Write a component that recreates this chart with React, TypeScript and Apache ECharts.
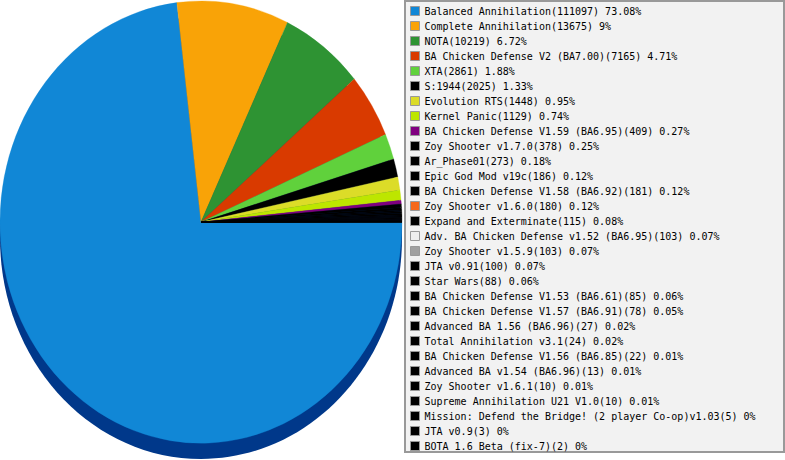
import React, { useEffect, useRef } from "react";
import * as echarts from "echarts";

const names: string[] = [
  "Balanced Annihilation",
  "Complete Annihilation",
  "NOTA",
  "BA Chicken Defense V2 (BA7.00)",
  "XTA",
  "S:1944",
  "Evolution RTS",
  "Kernel Panic",
  "BA Chicken Defense V1.59 (BA6.95)",
  "Zoy Shooter v1.7.0",
  "Ar_Phase01",
  "Epic God Mod v19c",
  "BA Chicken Defense V1.58 (BA6.92)",
  "Zoy Shooter v1.6.0",
  "Expand and Exterminate",
  "Adv. BA Chicken Defense v1.52 (BA6.95)",
  "Zoy Shooter v1.5.9",
  "JTA v0.91",
  "Star Wars",
  "BA Chicken Defense V1.53 (BA6.61)",
  "BA Chicken Defense V1.57 (BA6.91)",
  "Advanced BA 1.56 (BA6.96)",
  "Total Annihilation v3.1",
  "BA Chicken Defense V1.56 (BA6.85)",
  "Advanced BA v1.54 (BA6.96)",
  "Zoy Shooter v1.6.1",
  "Supreme Annihilation U21 V1.0",
  "Mission: Defend the Bridge! (2 player Co-op)v1.03",
  "JTA v0.9",
  "BOTA 1.6 Beta (fix-7)",
];

const values: number[] = [
  111097, 13675, 10219, 7165, 2861, 2025, 1448, 1129, 409, 378, 273, 186, 181,
  180, 115, 103, 103, 100, 88, 85, 78, 27, 24, 22, 13, 10, 10, 5, 3, 2,
];

// legend swatch colours
const palette: string[] = [
  "#1187d6", "#f9a307", "#2e9333", "#d93a00", "#60d13c", "#000000",
  "#dcdc28", "#bde600", "#800080", "#000000", "#000000", "#000000",
  "#000000", "#f5681a", "#000000", "#eeeeee", "#a0a0a0", "#000000",
  "#000000", "#000000", "#000000", "#000000", "#000000", "#000000",
  "#000000", "#000000", "#000000", "#000000", "#000000", "#000000",
];

// slice colours (the pie draws all the small tail slices in black)
const sliceColors: string[] = [
  "#1187d6", "#f9a307", "#2e9333", "#d93a00", "#60d13c", "#000000",
  "#dcdc28", "#bde600", "#800080", "#000000", "#000000", "#000000",
  "#000000", "#000000", "#000000", "#000000", "#000000", "#000000",
  "#000000", "#000000", "#000000", "#000000", "#000000", "#000000",
  "#000000", "#000000", "#000000", "#000000", "#000000", "#000000",
];

const CX = 201;
const CY = 222;
const RX = 201;
const RY = 221;
const DEPTH = 16;

export default function App() {
  const ref = useRef<HTMLDivElement>(null);

  useEffect(() => {
    if (!ref.current) return;
    const chart = echarts.init(ref.current, undefined, { renderer: "svg" });
    const total = values.reduce((a, b) => a + b, 0);
    const starts: number[] = [];
    let acc = 0;
    values.forEach((v) => {
      starts.push(acc);
      acc += v;
    });
    const pct = (v: number) => Number(((v / total) * 100).toFixed(2));

    const series = names.map((n, i) => ({
      type: "custom",
      name: n,
      coordinateSystem: "none",
      silent: true,
      z: 2,
      itemStyle: { color: palette[i] },
      data: [values[i]],
      renderItem: (_params: any, api: any) => {
        const v = api.value(0);
        const a0 = (starts[i] / total) * Math.PI * 2;
        const a1 = a0 + (v / total) * Math.PI * 2;
        const c = sliceColors[i];
        return {
          type: "sector",
          originX: CX,
          originY: CY,
          scaleY: RY / RX,
          shape: { cx: CX, cy: CY, r: RX, r0: 0, startAngle: a0, endAngle: a1, clockwise: true },
          style: { fill: c, stroke: c, lineWidth: 0.3 },
        };
      },
    }));

    chart.setOption({
      animation: false,
      legend: {
        orient: "vertical",
        left: 410,
        top: 6,
        height: 452,
        padding: 0,
        itemWidth: 9,
        itemHeight: 9,
        itemGap: 5,
        icon: "rect",
        selectedMode: false,
        itemStyle: { borderColor: "#999999", borderWidth: 1 },
        textStyle: { fontFamily: "DejaVu Sans Mono", fontSize: 10, color: "#000000" },
        data: names,
        formatter: (name: string) => {
          const i = names.indexOf(name);
          return `${name}(${values[i]}) ${pct(values[i])}%`;
        },
      },
      graphic: [
        {
          type: "ellipse",
          z: 0,
          silent: true,
          shape: { cx: CX, cy: CY + DEPTH, rx: RX, ry: RY },
          style: { fill: "#00388a" },
        },
        {
          type: "rect",
          z: 0,
          silent: true,
          shape: { x: 405, y: 1, width: 379, height: 451 },
          style: { fill: "#f2f2f2", stroke: "#999999", lineWidth: 2 },
        },
      ],
      series,
    });
    return () => chart.dispose();
  }, []);

  return (
    <div
      ref={ref}
      style={{ position: "absolute", left: 0, top: 0, width: 785, height: 460, background: "#ffffff" }}
    />
  );
}
